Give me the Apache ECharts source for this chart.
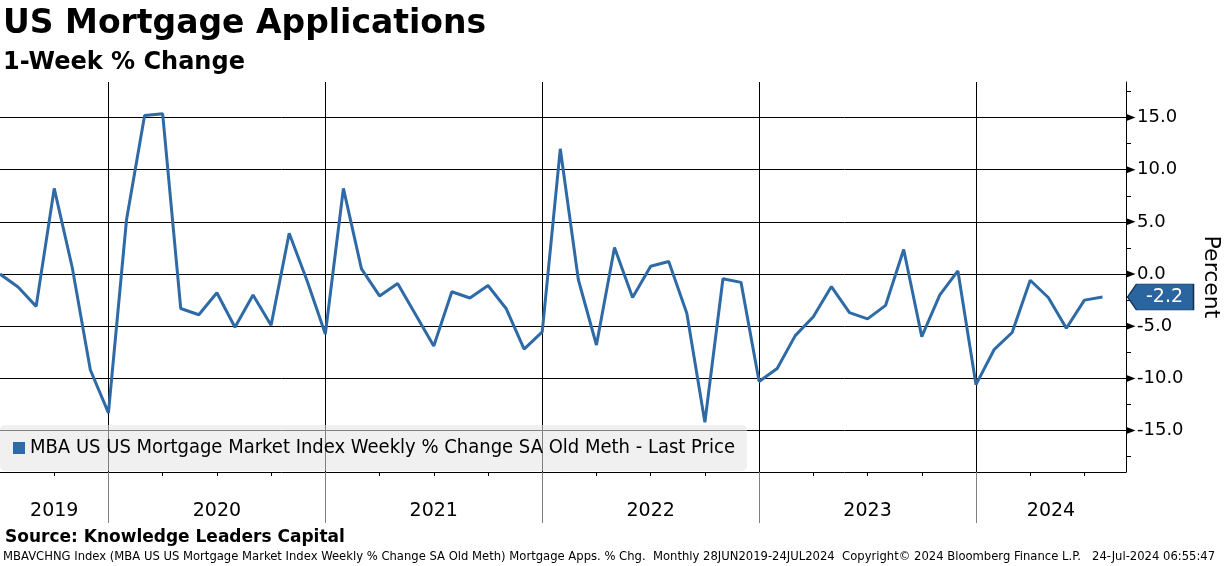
<!DOCTYPE html>
<html>
<head>
<meta charset="utf-8">
<script src="https://cdn.jsdelivr.net/npm/echarts@6/dist/echarts.min.js"></script>
<style>
html,body{margin:0;padding:0;background:#fff;}
#chart{width:1224px;height:566px;}
</style>
</head>
<body>
<div id="chart"></div>
<script>
// Month-end observations, Jun 2019 .. Jul 2024 (x = month index from Jun 2019)
const months = [
 '2019-06','2019-07','2019-08','2019-09','2019-10','2019-11','2019-12',
 '2020-01','2020-02','2020-03','2020-04','2020-05','2020-06','2020-07','2020-08','2020-09','2020-10','2020-11','2020-12',
 '2021-01','2021-02','2021-03','2021-04','2021-05','2021-06','2021-07','2021-08','2021-09','2021-10','2021-11','2021-12',
 '2022-01','2022-02','2022-03','2022-04','2022-05','2022-06','2022-07','2022-08','2022-09','2022-10','2022-11','2022-12',
 '2023-01','2023-02','2023-03','2023-04','2023-05','2023-06','2023-07','2023-08','2023-09','2023-10','2023-11','2023-12',
 '2024-01','2024-02','2024-03','2024-04','2024-05','2024-06','2024-07'
];
const values = [
 0.0, -1.25, -3.1, 8.2, 0.6, -9.2, -13.3,
 5.2, 15.2, 15.35, -3.3, -3.9, -1.8, -5.1, -2.0, -4.9, 3.9, -0.7, -5.75,
 8.2, 0.5, -2.1, -0.9, -3.9, -6.9, -1.7, -2.3, -1.1, -3.3, -7.2, -5.55,
 12.0, -0.55, -6.8, 2.55, -2.25, 0.75, 1.2, -3.75, -14.2, -0.45, -0.8, -10.3,
 -9.05, -5.9, -4.1, -1.2, -3.7, -4.3, -3.0, 2.35, -6.0, -2.0, 0.3, -10.6,
 -7.25, -5.6, -0.6, -2.25, -5.2, -2.5, -2.2
];
const yearLabels = ['2019','2020','2021','2022','2023','2024'];
const yearLabelPos = [3, 12, 24, 36, 48, 58.15];   // month-index centres of each year span
const yearBoundaries = [6, 18, 30, 42, 54];         // month-index of each year start
const quarterTicks = [3,6,9,12,15,18,21,24,27,30,33,36,39,42,45,48,51,54,57,60];
const yTickLabels = [-15, -10, -5, 0, 5, 10, 15];
const yMinorTicks = [-17.5, -12.5, -7.5, -2.5, 2.5, 7.5, 12.5, 17.5];
const seriesName = 'MBA US US Mortgage Market Index Weekly % Change SA Old Meth - Last Price';

const lineColor = '#2e6aa6';
const points = months.map((m, i) => [i, values[i]]);
const lastIdx = values.length - 1;

const chart = echarts.init(document.getElementById('chart'), null, {renderer: 'canvas'});
const F = 'DejaVu Sans';
const FC = "'DejaVu Sans Condensed', 'DejaVu Sans'";

chart.setOption({
  animation: false,
  backgroundColor: '#fff',
  title: [
    {text: 'US Mortgage Applications', left: 3, top: 8, padding: 0,
     textStyle: {fontFamily: F, fontWeight: 'bold', fontSize: 33, color: '#000'}},
    {text: '1-Week % Change', left: 3, top: 51, padding: 0,
     textStyle: {fontFamily: F, fontWeight: 'bold', fontSize: 24, color: '#000'}},
    {text: 'Source: Knowledge Leaders Capital', left: 5, top: 529, padding: 0,
     textStyle: {fontFamily: F, fontWeight: 'bold', fontSize: 17, color: '#000'}},
    {text: 'MBAVCHNG Index (MBA US US Mortgage Market Index Weekly % Change SA Old Meth) Mortgage Apps. % Chg.  Monthly 28JUN2019-24JUL2024  Copyright\u00A9 2024 Bloomberg Finance L.P.   24-Jul-2024 06:55:47',
     left: 3, top: 551, padding: 0,
     textStyle: {fontFamily: F, fontWeight: 'normal', fontSize: 11.6, color: '#000'}}
  ],
  legend: {
    data: [seriesName],
    left: 0, top: 425,
    padding: [13, 12, 13, 13],
    backgroundColor: 'rgba(229,229,229,0.56)',
    borderRadius: 5,
    icon: 'rect', itemWidth: 12, itemHeight: 12,
    textStyle: {fontFamily: FC, fontSize: 20, color: '#000'},
    selectedMode: false
  },
  grid: {left: 0, right: 98, top: 82, bottom: 94, containLabel: false, outerBoundsMode: 'none'},
  xAxis: [
    {type: 'value', min: 0, max: 62.3, position: 'bottom',
     axisLine: {show: true, onZero: false, lineStyle: {color: '#000', width: 1}},
     axisTick: {show: true, customValues: quarterTicks, length: 4, lineStyle: {color: '#000'}},
     axisLabel: {show: false}, splitLine: {show: false}},
    {type: 'value', min: 0, max: 62.3, position: 'bottom',
     axisLine: {show: false, onZero: false},
     axisTick: {show: true, customValues: yearBoundaries, length: 51, lineStyle: {color: '#808080', width: 1}},
     axisLabel: {show: true, customValues: yearLabelPos, margin: 30,
       formatter: v => yearLabels[yearLabelPos.indexOf(v)] || '',
       fontFamily: F, fontSize: 19, color: '#000'},
     splitLine: {show: false}}
  ],
  yAxis: {
    type: 'value', position: 'right', min: -18.97, max: 18.4,
    name: 'Percent', nameLocation: 'middle', nameRotate: -90, nameGap: 74,
    nameTextStyle: {fontFamily: F, fontSize: 22, color: '#000'},
    axisLine: {show: true, onZero: false, lineStyle: {color: '#000', width: 1}},
    axisTick: {show: true, customValues: yMinorTicks, length: 5, inside: false, lineStyle: {color: '#000'}},
    axisLabel: {show: true, customValues: yTickLabels, margin: 11,
      formatter: v => v.toFixed(1), fontFamily: F, fontSize: 18, color: '#000'},
    splitLine: {show: false}
  },
  series: [
    {
      name: seriesName, type: 'line', data: points, xAxisIndex: 0,
      showSymbol: false, symbol: 'none', z: 3,
      lineStyle: {color: lineColor, width: 3},
      itemStyle: {color: lineColor},
      markLine: {
        silent: true, z: 1, animation: false,
        symbol: ['none', 'triangle'], symbolSize: [7, 9],
        symbolOffset: [0, [0, -5]],
        label: {show: false},
        lineStyle: {color: '#000', width: 1, type: 'solid'},
        data: yTickLabels.map(v => ({yAxis: v}))
      },
      markPoint: {
        silent: true, animation: false,
        symbol: 'path://M0,13 L9,0 L66,0 L66,26 L9,26 Z',
        symbolSize: [66, 26], symbolOffset: [58, 0],
        itemStyle: {color: '#2b65a0', borderColor: '#14304f', borderWidth: 1},
        label: {show: true, position: 'inside', offset: [4, 0], color: '#fff',
          fontFamily: F, fontSize: 19, formatter: p => p.value.toFixed(1)},
        data: [{coord: [lastIdx, values[lastIdx]], value: values[lastIdx]}]
      }
    },
    {
      name: 'yearLines', type: 'line', data: [], xAxisIndex: 0,
      markLine: {
        silent: true, z: 1, animation: false, symbol: ['none', 'none'],
        label: {show: false},
        lineStyle: {color: '#000', width: 1, type: 'solid'},
        data: yearBoundaries.map(v => ({xAxis: v}))
      }
    }
  ]
});
</script>
</body>
</html>
